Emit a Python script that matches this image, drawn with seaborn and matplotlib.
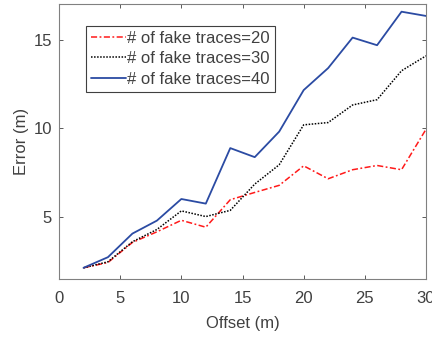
import matplotlib
matplotlib.use("Agg")
import matplotlib.pyplot as plt
import seaborn as sns
import pandas as pd

offset = [2, 4, 6, 8, 10, 12, 14, 16, 18, 20, 22, 24, 26, 28, 30]
err_20 = [2.13, 2.43, 3.56, 4.16, 4.81, 4.42, 5.97, 6.38, 6.78, 7.88, 7.15, 7.66, 7.90, 7.66, 9.94]
err_30 = [2.13, 2.47, 3.60, 4.29, 5.34, 5.02, 5.37, 6.85, 7.94, 10.19, 10.32, 11.31, 11.61, 13.24, 14.08]
err_40 = [2.13, 2.73, 4.06, 4.79, 6.01, 5.75, 8.88, 8.37, 9.81, 12.15, 13.39, 15.11, 14.68, 16.57, 16.33]
labels = ["# of fake traces=20", "# of fake traces=30", "# of fake traces=40"]
xticks = [0, 5, 10, 15, 20, 25, 30]
yticks = [5, 10, 15]

sns.set_theme(style="white")
grey = "#404040"
plt.rcParams["font.family"] = ["Liberation Sans", "DejaVu Sans"]
plt.rcParams["text.color"] = grey
plt.rcParams["axes.labelcolor"] = grey
plt.rcParams["xtick.color"] = grey
plt.rcParams["ytick.color"] = grey

fig = plt.figure(figsize=(4.32, 3.39), dpi=100)
ax = fig.add_axes([0.1366, 0.177, 0.8495, 0.811])

df = pd.DataFrame({"offset": offset * 3,
                   "err": err_20 + err_30 + err_40,
                   "series": [labels[0]] * len(offset) + [labels[1]] * len(offset) + [labels[2]] * len(offset)})

styles = [("#ff1a1a", (0, (4.0, 1.6, 1.2, 1.6)), 1.1),
          ("#000000", (0, (1.0, 1.0)), 1.1),
          ("#2b4ba3", "-", 1.3)]
for lab, (c, ls, lw) in zip(labels, styles):
    sub = df[df["series"] == lab]
    sns.lineplot(data=sub, x="offset", y="err", ax=ax, color=c, linestyle=ls,
                 linewidth=lw, label=lab, legend=False)

fs = 12
ax.set_xlim(0, 30)
ax.set_ylim(1.5, 17)
ax.set_xticks(xticks)
ax.set_yticks(yticks)
ax.set_xlabel("Offset (m)", fontsize=fs, labelpad=7)
ax.set_ylabel("Error (m)", fontsize=fs, labelpad=3)
ax.tick_params(axis="both", which="both", direction="in", length=3, width=0.6,
               labelsize=fs, top=True, right=True, bottom=True, left=True)
ax.tick_params(axis="x", pad=9)
ax.tick_params(axis="y", pad=5)
for s in ax.spines.values():
    s.set_color("#808080")
    s.set_linewidth(0.8)

h, l = ax.get_legend_handles_labels()
leg = ax.legend(h, l, loc="upper left", bbox_to_anchor=(0.074, 0.921), fontsize=fs,
                frameon=True, fancybox=False, edgecolor="#404040", framealpha=1,
                handlelength=2.1, handletextpad=0.05, labelspacing=0.33, borderpad=0.3,
                borderaxespad=0)
leg.get_frame().set_linewidth(0.8)

fig.savefig("out.png", dpi=100)
